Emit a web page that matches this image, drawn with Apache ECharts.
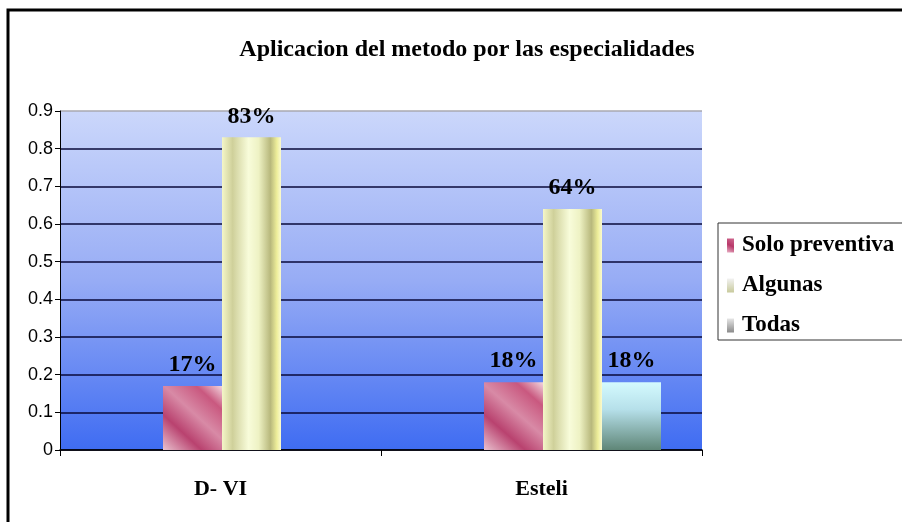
<!DOCTYPE html>
<html>
<head>
<meta charset="utf-8">
<script src="https://cdn.jsdelivr.net/npm/echarts@6/dist/echarts.min.js"></script>
<style>
  html, body { margin: 0; padding: 0; background: #fff; }
  #chart { width: 902px; height: 522px; }
</style>
</head>
<body>
<div id="chart"></div>
<script>
// Data
const categories = ['D- VI', 'Esteli'];
const seriesNames = ['Solo preventiva', 'Algunas', 'Todas'];
const soloPreventiva = [0.17, 0.18];
const algunas = [0.83, 0.64];
const todas = [0, 0.18];
const yTicks = [0, 0.1, 0.2, 0.3, 0.4, 0.5, 0.6, 0.7, 0.8, 0.9];

const G = echarts.graphic;
const serif = '"Liberation Serif", "Times New Roman", serif';

const fillSolo = new G.LinearGradient(0, 1, 1, 0, [
  { offset: 0, color: '#e9c2cf' },
  { offset: 0.3, color: '#b9426f' },
  { offset: 0.55, color: '#d88aa6' },
  { offset: 0.8, color: '#c9587f' },
  { offset: 1, color: '#f2d6de' }
]);
const fillAlgunas = new G.LinearGradient(0, 0, 1, 0, [
  { offset: 0, color: '#f4f6c8' },
  { offset: 0.18, color: '#cfd09a' },
  { offset: 0.45, color: '#f8fcda' },
  { offset: 0.62, color: '#eef2c4' },
  { offset: 0.82, color: '#b8b87c' },
  { offset: 0.93, color: '#eeee9a' },
  { offset: 1, color: '#fafad0' }
]);
const fillTodas = new G.LinearGradient(0, 0, 0, 1, [
  { offset: 0, color: '#d4fafe' },
  { offset: 0.4, color: '#b6e0ea' },
  { offset: 1, color: '#5f8677' }
]);
const fills = [fillSolo, fillAlgunas, fillTodas];
const values = [soloPreventiva, algunas, todas];

// small swatches shown in the legend
const legendIcons = [
  new G.LinearGradient(0, 1, 1, 0, [{ offset: 0, color: '#e8b0c4' }, { offset: 0.5, color: '#b8386a' }, { offset: 1, color: '#d06a90' }]),
  new G.LinearGradient(0, 0, 0, 1, [{ offset: 0, color: '#f2f2f2' }, { offset: 1, color: '#c8ca9c' }]),
  new G.LinearGradient(0, 0, 0, 1, [{ offset: 0, color: '#e6e6e6' }, { offset: 1, color: '#8a8a8a' }])
];

const plotBg = new G.LinearGradient(0, 0, 0, 1, [
  { offset: 0, color: '#cbd7fb' },
  { offset: 0.5, color: '#97acf5' },
  { offset: 1, color: '#3f6cf2' }
]);

// gridline colours: dark rules, light grey top edge
const splitColors = yTicks.map((v, i) => i === yTicks.length - 1 ? '#a8a8b0' : '#0a0a3a');

const chart = echarts.init(document.getElementById('chart'));

const option = {
  animation: false,
  backgroundColor: '#ffffff',
  title: {
    text: 'Aplicacion del metodo por las especialidades',
    left: 462,
    textAlign: 'center',
    top: 33,
    textStyle: { fontFamily: serif, fontWeight: 'bold', fontSize: 24, color: '#000' }
  },
  legend: {
    orient: 'vertical',
    left: 718,
    top: 223,
    data: seriesNames.map((n, i) => ({ name: n, itemStyle: { color: legendIcons[i] } })),
    itemWidth: 7,
    itemHeight: 14,
    itemGap: 17,
    padding: [11, 60, 3, 9],
    borderColor: '#333',
    borderWidth: 1,
    icon: 'rect',
    textStyle: { fontFamily: serif, fontWeight: 'bold', fontSize: 23, color: '#000', padding: [0, 0, 0, 3] }
  },
  grid: [
    { left: 60, right: 200, top: 111, bottom: 72, show: true, backgroundColor: plotBg, borderWidth: 0 },
    { left: 91, right: 169, top: 111, bottom: 72, show: false }
  ],
  xAxis: [
    {
      gridIndex: 0,
      type: 'category',
      data: categories,
      axisLine: { lineStyle: { color: '#000', width: 1.5 } },
      axisTick: { show: true, alignWithLabel: false, length: 6, lineStyle: { color: '#000' } },
      axisLabel: { margin: 28, fontFamily: serif, fontWeight: 'bold', fontSize: 22, color: '#000' }
    },
    {
      gridIndex: 1,
      type: 'category',
      data: categories,
      show: false
    }
  ],
  yAxis: [
    {
      gridIndex: 0,
      type: 'value',
      min: 0,
      max: 0.9,
      interval: 0.1,
      axisLine: { show: true, lineStyle: { color: '#000', width: 1 } },
      axisTick: { show: true, length: 5, lineStyle: { color: '#000' } },
      axisLabel: {
        margin: 7,
        fontFamily: '"Liberation Sans", Arial, sans-serif',
        fontSize: 18,
        color: '#000',
        formatter: v => String(Math.round(v * 10) / 10)
      },
      splitLine: { show: true, lineStyle: { color: splitColors, width: 1.5 } }
    },
    {
      gridIndex: 1,
      type: 'value',
      min: 0,
      max: 0.9,
      interval: 0.1,
      show: false,
      splitLine: { show: false }
    }
  ],
  series: seriesNames.map((name, i) => ({
    name: name,
    type: 'bar',
    xAxisIndex: 1,
    yAxisIndex: 1,
    data: values[i],
    barWidth: 59,
    barGap: '0%',
    itemStyle: { color: fills[i] },
    label: {
      show: true,
      position: 'top',
      distance: 9,
      fontFamily: serif,
      fontWeight: 'bold',
      fontSize: 24,
      color: '#000',
      formatter: p => (p.value ? Math.round(p.value * 100) + '%' : '')
    }
  })),
  graphic: [
    {
      type: 'polyline',
      shape: { points: [[8, 522], [8, 10], [902, 10]] },
      style: { stroke: '#000', lineWidth: 3, fill: null },
      silent: true
    }
  ]
};

chart.setOption(option);
</script>
</body>
</html>
